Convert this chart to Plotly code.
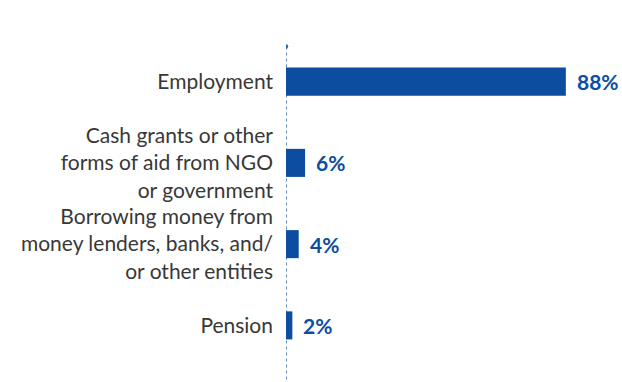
import plotly.graph_objects as go

# Sources of income, share of respondents (%)
categories = [
    "Employment",
    "Cash grants or other<br>forms of aid from NGO<br>or government",
    "Borrowing money from<br>money lenders, banks, and/<br>or other entities",
    "Pension",
]
values = [88, 6, 4, 2]
value_labels = [f"{v}%" for v in values]

BAR_COLOR = "#0c4d9f"
TEXT_COLOR = "#383838"
FONT = "Lato, 'Open Sans', sans-serif"

fig = go.Figure()
fig.add_trace(go.Bar(
    x=values,
    y=categories,
    orientation="h",
    marker=dict(color=BAR_COLOR, line=dict(width=0)),
    hoverinfo="skip",
))

for cat, v, lab in zip(categories, values, value_labels):
    fig.add_annotation(
        x=v, y=cat, text=f"<b>{lab}</b>", showarrow=False,
        xanchor="left", yanchor="middle", xshift=9,
        font=dict(family=FONT, size=21, color=BAR_COLOR),
    )

# dotted baseline with a small dot on top
top = 0.983
fig.add_shape(type="line", xref="x", yref="paper", x0=0, x1=0, y0=-0.06, y1=top,
              line=dict(color="#2e64b0", width=1.5, dash="dot"), layer="below")
fig.add_shape(type="circle", xref="x", yref="paper", xsizemode="pixel", ysizemode="pixel",
              xanchor=0, yanchor=top, x0=-2.2, x1=2.2, y0=-2.2, y1=2.2,
              fillcolor="#2e64b0", line=dict(width=0))

fig.update_layout(
    width=622, height=382,
    margin=dict(l=286, r=18, t=41, b=16),
    paper_bgcolor="white", plot_bgcolor="white",
    bargap=0.655,
    showlegend=False,
    font=dict(family=FONT, color=TEXT_COLOR),
    xaxis=dict(range=[0, 100], visible=False, fixedrange=True),
    yaxis=dict(
        autorange="reversed", showgrid=False, zeroline=False, showline=False,
        ticks="", ticklabelstandoff=12,
        tickfont=dict(family=FONT, size=21, color=TEXT_COLOR),
        fixedrange=True,
    ),
)

fig.write_html("out.html")
